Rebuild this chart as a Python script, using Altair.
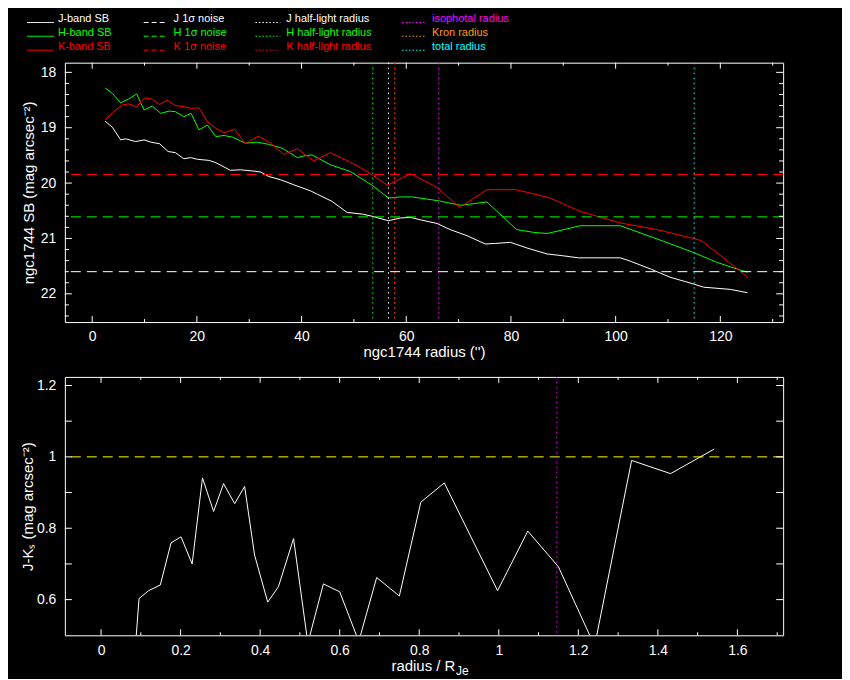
import altair as alt
import pandas as pd

# ---------------- data ----------------
r_J = [2.45, 3.85, 5.44, 6.4, 8.3, 9.9, 11.2, 12.9, 14.5, 15.9, 17.5, 18.8, 20.1, 22.3, 23.6,
       25.2, 26.4, 28.3, 30.6, 32.2, 33.7, 36.0, 38.5, 41.7, 43.0, 45.8, 48.7, 51.6, 53.5, 56.6,
       58.9, 60.8, 63.0, 65.9, 68.4, 71.6, 75.1, 77.0, 79.9, 83.0, 86.9, 89.7, 92.9, 100.9, 102.8,
       106.9, 110.4, 114.8, 116.8, 121.9, 125.2]
sb_J = [18.88, 18.99, 19.22, 19.20, 19.25, 19.22, 19.26, 19.29, 19.43, 19.45, 19.56, 19.54, 19.57,
        19.59, 19.63, 19.71, 19.77, 19.76, 19.78, 19.80, 19.88, 19.94, 20.03, 20.14, 20.20, 20.33,
        20.53, 20.56, 20.60, 20.68, 20.63, 20.62, 20.67, 20.73, 20.84, 20.95, 21.10, 21.09, 21.07,
        21.17, 21.28, 21.31, 21.35, 21.35, 21.41, 21.56, 21.70, 21.82, 21.88, 21.92, 21.98]

r_H = [2.45, 3.85, 5.44, 7.0, 8.5, 9.9, 11.5, 13.1, 14.7, 15.9, 17.5, 18.9, 20.4, 22.0, 23.6,
       25.2, 26.8, 29.3, 31.5, 33.7, 36.3, 39.2, 40.4, 42.0, 45.5, 49.3, 53.5, 56.6, 58.9, 61.1,
       66.2, 70.3, 72.2, 75.4, 81.1, 84.3, 86.9, 88.8, 93.2, 100.9, 104.7, 109.1, 114.8, 119.3,
       123.1, 125.2]
sb_H = [18.28, 18.38, 18.55, 18.48, 18.39, 18.68, 18.61, 18.74, 18.70, 18.71, 18.80, 18.74, 19.04,
        18.95, 19.16, 19.14, 19.17, 19.28, 19.26, 19.30, 19.37, 19.54, 19.51, 19.49, 19.67, 19.79,
        20.04, 20.27, 20.25, 20.25, 20.32, 20.40, 20.38, 20.34, 20.84, 20.89, 20.91, 20.87, 20.77,
        20.77, 20.90, 21.05, 21.25, 21.43, 21.55, 21.61]

r_K = [2.45, 4.2, 5.76, 7.0, 8.5, 10.0, 11.3, 12.9, 14.3, 15.9, 17.5, 18.9, 20.4, 22.0, 23.6,
       25.2, 27.2, 29.3, 31.7, 34.1, 36.6, 39.2, 42.3, 45.5, 49.3, 52.5, 56.4, 60.8, 65.9, 70.2,
       75.4, 81.1, 87.5, 93.2, 100.9, 107.9, 114.8, 116.4, 120.6, 125.2]
sb_K = [18.86, 18.70, 18.59, 18.57, 18.62, 18.46, 18.48, 18.58, 18.50, 18.60, 18.62, 18.65, 18.64,
        18.89, 19.01, 19.09, 19.03, 19.29, 19.15, 19.28, 19.48, 19.38, 19.60, 19.45, 19.62, 19.79,
        20.04, 19.83, 20.08, 20.44, 20.12, 20.12, 20.27, 20.51, 20.72, 20.84, 21.00, 21.04, 21.35,
        21.70]

noise_values = [21.60, 20.61, 19.845]          # J, H, K 1-sigma noise
noise_bands = ["J", "H", "K"]

radius_names = ["Kron radius", "H half-light radius", "J half-light radius",
                "K half-light radius", "isophotal radius", "total radius"]
radius_values = [57.8, 53.6, 56.6, 57.8, 66.2, 115.0]

r_norm = [0.043, 0.075, 0.0955, 0.1196, 0.149, 0.176, 0.201, 0.229, 0.255, 0.283, 0.308, 0.336,
          0.361, 0.386, 0.419, 0.446, 0.484, 0.520, 0.559, 0.600, 0.648, 0.693, 0.750, 0.804,
          0.863, 0.997, 1.073, 1.150, 1.241, 1.334, 1.432, 1.542]
j_minus_k = [0.05, 0.30, 0.603, 0.625, 0.641, 0.759, 0.776, 0.700, 0.941, 0.847, 0.925, 0.869,
             0.917, 0.725, 0.593, 0.636, 0.771, 0.478, 0.644, 0.622, 0.483, 0.662, 0.610, 0.873,
             0.927, 0.625, 0.792, 0.692, 0.470, 0.990, 0.953, 1.022]
jk_reference = [1.0]
iso_norm = [1.146]

# tick values
top_x_major = [0, 20, 40, 60, 80, 100, 120]
top_x_minor = [10, 30, 50, 70, 90, 110, 130]
top_y_major = [18, 19, 20, 21, 22]
top_y_minor = [18.2, 18.4, 18.6, 18.8, 19.2, 19.4, 19.6, 19.8, 20.2, 20.4, 20.6, 20.8,
               21.2, 21.4, 21.6, 21.8, 22.2, 22.4]
bot_x_major = [0, 0.2, 0.4, 0.6, 0.8, 1.0, 1.2, 1.4, 1.6]
bot_x_minor = [0.1, 0.3, 0.5, 0.7, 0.9, 1.1, 1.3, 1.5, 1.7]
bot_y_ticks = [0.6, 0.7, 0.8, 0.9, 1.0, 1.1, 1.2]
bot_y_labels = [0.6, 0.8, 1.0, 1.2]

legend_labels = ["J-band SB", "J 1\u03c3 noise", "J half-light radius", "isophotal radius",
                 "H-band SB", "H 1\u03c3 noise", "H half-light radius", "Kron radius",
                 "K-band SB", "K 1\u03c3 noise", "K half-light radius", "total radius"]

# ---------------- styles / layout ----------------
WHITE, GREEN, RED = "#ffffff", "#00ff00", "#ff0000"
MAGENTA, ORANGE, CYAN, YELLOW = "#ff00ff", "#ff9900", "#00ffff", "#ffff00"
band_color = {"J": WHITE, "H": GREEN, "K": RED}
radius_color = {"Kron radius": ORANGE, "H half-light radius": GREEN,
                "J half-light radius": WHITE, "K half-light radius": RED,
                "isophotal radius": MAGENTA, "total radius": CYAN}
legend_colors = [WHITE, WHITE, WHITE, MAGENTA, GREEN, GREEN, GREEN, ORANGE, RED, RED, RED, CYAN]
legend_styles = ["solid", "dashed", "dotted", "dotted"] * 3

FONT = "Liberation Sans"
W, HT, HB = 720, 260, 259

xs_top = alt.Scale(domain=[-5.22, 132.0], nice=False, zero=False)
ys_top = alt.Scale(domain=[17.825, 22.51], nice=False, zero=False, reverse=True)
xs_bot = alt.Scale(domain=[-0.091, 1.715], nice=False, zero=False)
ys_bot = alt.Scale(domain=[0.5, 1.224], nice=False, zero=False)

sb_df = pd.concat([
    pd.DataFrame({"r": r_J, "sb": sb_J, "band": "J"}),
    pd.DataFrame({"r": r_H, "sb": sb_H, "band": "H"}),
    pd.DataFrame({"r": r_K, "sb": sb_K, "band": "K"}),
], ignore_index=True)
noise_df = pd.DataFrame({"v": noise_values, "c": [band_color[b] for b in noise_bands]})
rad_df = pd.DataFrame({"v": radius_values, "c": [radius_color[n] for n in radius_names],
                       "order": list(range(len(radius_names)))})
jk_df = pd.DataFrame({"r": r_norm, "jk": j_minus_k})
one = pd.DataFrame({"a": [0]})

col_line0 = [-38, 79, 191, 338]
col_line1 = [-11, 101, 216, 361]
col_text = [-7, 109, 222, 368]
row_y = [-40.3, -26.5, -12.5]
leg_df = pd.DataFrame({
    "label": legend_labels,
    "color": legend_colors,
    "style": legend_styles,
    "x0": [col_line0[i % 4] for i in range(12)],
    "x1": [col_line1[i % 4] for i in range(12)],
    "xt": [col_text[i % 4] for i in range(12)],
    "y": [row_y[i // 4] for i in range(12)],
})


def tick_layer(values, scale, side, length, width, height):
    df = pd.DataFrame({"t": values})
    if side in ("bottom", "top"):
        y0 = height if side == "bottom" else 0
        y1 = height - length if side == "bottom" else length
        enc = dict(x=alt.X("t:Q", scale=scale), y=alt.value(y0), y2=alt.value(y1))
    else:
        x0 = 0 if side == "left" else width
        x1 = length if side == "left" else width - length
        enc = dict(y=alt.Y("t:Q", scale=scale), x=alt.value(x0), x2=alt.value(x1))
    return alt.Chart(df).mark_rule(color=WHITE, strokeWidth=1).encode(**enc)


def anchor(x, y):
    return alt.Chart(one).mark_rule(color="black", strokeWidth=0).encode(
        x=alt.value(x), x2=alt.value(x + 4), y=alt.value(y))


# ---------------- top panel ----------------
ax_xt = alt.Axis(values=top_x_major, format="d", title="ngc1744 radius ('')",
                 labelPadding=7, labelFlush=False, titleY=35, titleBaseline="alphabetic")
ax_yt = alt.Axis(values=top_y_major, format="d", title="ngc1744 SB (mag arcsec\u207b\u00b2)",
                 labelPadding=9, labelFlush=False, titleX=-31, titleY=130,
                 titleBaseline="alphabetic", titleAngle=270)

lines = alt.Chart(sb_df).mark_line(strokeWidth=1).encode(
    x=alt.X("r:Q", scale=xs_top, axis=ax_xt),
    y=alt.Y("sb:Q", scale=ys_top, axis=ax_yt),
    color=alt.Color("band:N", scale=alt.Scale(domain=["H", "J", "K"],
                                              range=[GREEN, WHITE, RED]), legend=None),
    order="r:Q",
)
noise = alt.Chart(noise_df).mark_rule(strokeWidth=1, strokeDash=[10, 6]).encode(
    y=alt.Y("v:Q", scale=ys_top),
    color=alt.Color("c:N", scale=None),
)
radii = alt.Chart(rad_df).mark_rule(strokeWidth=1, strokeDash=[1.5, 3.5]).encode(
    x=alt.X("v:Q", scale=xs_top),
    color=alt.Color("c:N", scale=None),
    order="order:Q",
)

dash_map = {"solid": [1, 0], "dashed": [5, 3], "dotted": [1.5, 2]}
legend_layers = []
for st in ["solid", "dashed", "dotted"]:
    legend_layers.append(
        alt.Chart(leg_df).transform_filter(alt.datum.style == st)
        .mark_rule(strokeWidth=1, strokeDash=dash_map[st]).encode(
            x=alt.X("x0:Q", scale=None), x2="x1:Q",
            y=alt.Y("y:Q", scale=None),
            color=alt.Color("color:N", scale=None),
        )
    )
legend_text = alt.Chart(leg_df).mark_text(align="left", baseline="alphabetic",
                                          font=FONT, fontSize=11).encode(
    x=alt.X("xt:Q", scale=None), y=alt.Y("y:Q", scale=None),
    text="label:N", color=alt.Color("color:N", scale=None),
)

top = alt.layer(
    lines, noise, radii,
    tick_layer(top_x_major, xs_top, "bottom", 6, W, HT),
    tick_layer(top_x_minor, xs_top, "bottom", 3, W, HT),
    tick_layer(top_x_major, xs_top, "top", 6, W, HT),
    tick_layer(top_x_minor, xs_top, "top", 3, W, HT),
    tick_layer(top_y_major, ys_top, "left", 7, W, HT),
    tick_layer(top_y_minor, ys_top, "left", 4, W, HT),
    tick_layer(top_y_major, ys_top, "right", 7, W, HT),
    tick_layer(top_y_minor, ys_top, "right", 4, W, HT),
    *legend_layers, legend_text,
    anchor(-56, -53),
).properties(width=W, height=HT)

# ---------------- bottom panel ----------------
ax_xb = alt.Axis(values=bot_x_major, format="~r", title="radius / R",
                 labelPadding=8, labelFlush=False, titleX=391, titleAlign="right",
                 titleY=35, titleBaseline="alphabetic")
ax_yb = alt.Axis(values=bot_y_labels, format="~r", title="J-K\u209b (mag arcsec\u207b\u00b2)",
                 labelPadding=9, labelFlush=False, titleX=-32, titleY=129.5,
                 titleBaseline="alphabetic", titleAngle=270)

jk_line = alt.Chart(jk_df).mark_line(strokeWidth=1, color=WHITE, clip=True).encode(
    x=alt.X("r:Q", scale=xs_bot, axis=ax_xb),
    y=alt.Y("jk:Q", scale=ys_bot, axis=ax_yb),
    order="r:Q",
)
ref_line = alt.Chart(pd.DataFrame({"v": jk_reference})).mark_rule(
    color=YELLOW, strokeWidth=1, strokeDash=[10, 6]).encode(
    y=alt.Y("v:Q", scale=ys_bot))
iso_line = alt.Chart(pd.DataFrame({"v": iso_norm})).mark_rule(
    color=MAGENTA, strokeWidth=1, strokeDash=[1.5, 3.5]).encode(
    x=alt.X("v:Q", scale=xs_bot))
subscript = alt.Chart(one).mark_text(align="left", baseline="alphabetic", font=FONT,
                                     fontSize=12, color=WHITE, text="Je").encode(
    x=alt.value(392), y=alt.value(HB + 40))

bottom = alt.layer(
    jk_line, ref_line, iso_line,
    tick_layer(bot_x_major, xs_bot, "bottom", 6, W, HB),
    tick_layer(bot_x_minor, xs_bot, "bottom", 3, W, HB),
    tick_layer(bot_x_major, xs_bot, "top", 6, W, HB),
    tick_layer(bot_x_minor, xs_bot, "top", 3, W, HB),
    tick_layer(bot_y_ticks, ys_bot, "left", 7, W, HB),
    tick_layer(bot_y_ticks, ys_bot, "right", 7, W, HB),
    subscript,
    anchor(774, 296),
).properties(width=W, height=HB)

chart = alt.vconcat(top, bottom, spacing=55, bounds="flush").properties(
    padding=0, background="black"
).configure_view(
    stroke=WHITE, strokeWidth=1
).configure_axis(
    labelColor=WHITE, titleColor=WHITE, labelFont=FONT, titleFont=FONT,
    labelFontSize=14, titleFontSize=15, titleFontWeight="normal",
    grid=False, domain=False, ticks=False,
)

chart.save("out.html", embed_options={"renderer": "svg", "actions": False})
